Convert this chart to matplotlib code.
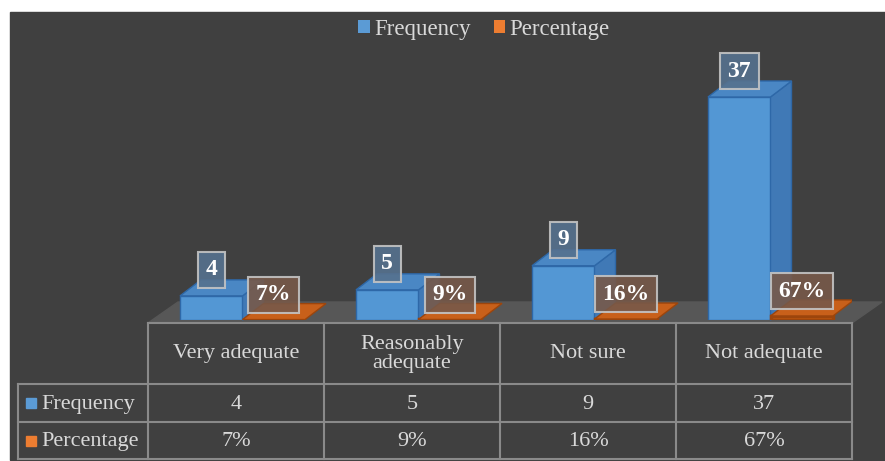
import os
import numpy as np
import matplotlib.pyplot as plt
from matplotlib.patches import Patch, Rectangle
from matplotlib.font_manager import FontProperties, findfont

# data
categories = ['Very adequate', 'Reasonably\nadequate', 'Not sure', 'Not adequate']
frequency = [4, 5, 9, 37]
percentage = [0.07, 0.09, 0.16, 0.67]
pct_labels = ['7%', '9%', '16%', '67%']
series = ['Frequency', 'Percentage']

# Times-like serif, loaded from file
reg_path = findfont(FontProperties(family='Liberation Serif'))
bold_path = reg_path.replace('Regular', 'Bold')
if not os.path.exists(bold_path):
    bold_path = findfont(FontProperties(family='Liberation Serif', weight='bold'))


def fp(size, bold=False):
    return FontProperties(fname=bold_path if bold else reg_path, size=size)


BG = '#404040'
TXT = '#d9d9d9'
GRID = '#8a8a8a'
BLUE, BLUE_SIDE, BLUE_TOP, BLUE_EDGE = '#5397d4', '#4079b6', '#4a87c4', '#2e68a8'
ORG, ORG_TOP, ORG_EDGE = '#c55a11', '#c8601a', '#9c450c'
BLUE_KEY, ORG_KEY = '#5b9bd5', '#ed7d31'

W, H = 885, 461
fig = plt.figure(figsize=(W / 100, H / 100), dpi=100, facecolor='white')

# dark chart area (white margin on left/top as in the picture)
bg = fig.add_axes([0, 0, 1, 1])
bg.set_xlim(0, W)
bg.set_ylim(H, 0)
bg.axis('off')
bg.add_patch(Rectangle((10, 12), W - 10, 448, color=BG, zorder=0))

# main plot area: columns from 148px to 852px, baseline at 320px
px_per_unit = 223 / 37
ax = fig.add_axes([148 / W, 1 - 320 / H, 704 / W, 270 / H])
ax.set_facecolor('none')
ax.set_xlim(0, len(categories))
ax.set_ylim(0, 270 / px_per_unit)
ax.axis('off')

dx = 21 / 176            # bar depth offset in x units
dy = 16 / px_per_unit    # bar depth offset in y units
bw = 62.5 / 176
x = np.arange(len(categories))
xb = x + 32 / 176
xo = xb + bw

# floor
fl = -3 / px_per_unit
fdx, fdy = 30 / 176, 21 / px_per_unit
ax.fill([0, 4, 4 + fdx, fdx], [fl, fl, fl + fdy, fl + fdy], color='#575757',
        clip_on=False, zorder=0)


def box3d(x0, w, h, side, top, edge):
    ax.fill([x0 + w, x0 + w + dx, x0 + w + dx, x0 + w], [0, dy, h + dy, h],
            color=side, ec=edge, lw=1, clip_on=False, zorder=2)
    ax.fill([x0, x0 + w, x0 + w + dx, x0 + dx], [h, h, h + dy, h + dy],
            color=top, ec=edge, lw=1, clip_on=False, zorder=2)


ax.bar(xb, frequency, width=bw, align='edge', color=BLUE, ec=BLUE_EDGE, lw=1, zorder=2)
for i in range(len(categories)):
    box3d(xb[i], bw, frequency[i], BLUE_SIDE, BLUE_TOP, BLUE_EDGE)
ax.bar(xo, percentage, width=bw, align='edge', color=ORG, ec=ORG_EDGE, lw=2.5, zorder=3)
for i in range(len(categories)):
    ax.fill([xo[i], xo[i] + bw, xo[i] + bw + dx, xo[i] + dx],
            [percentage[i], percentage[i], percentage[i] + dy, percentage[i] + dy],
            color=ORG_TOP, ec=ORG_EDGE, lw=1, zorder=3)

# value labels
for i in range(len(categories)):
    ax.text(xb[i] + bw / 2, frequency[i] + 4.3, str(frequency[i]), ha='center', va='center',
            fontproperties=fp(17, True), color='white', zorder=5,
            bbox=dict(boxstyle='square,pad=0.32', fc='#56718e', ec='#c4c4c4', lw=1.5, alpha=0.9))
    ax.text(xo[i] + bw / 2, percentage[i] + 4.1, pct_labels[i], ha='center', va='center',
            fontproperties=fp(17, True), color='white', zorder=5,
            bbox=dict(boxstyle='square,pad=0.32', fc='#775949', ec='#c4c4c4', lw=1.5, alpha=0.9))

# data table (pixel overlay)
tb = fig.add_axes([0, 0, 1, 1])
tb.set_facecolor('none')
tb.set_xlim(0, W)
tb.set_ylim(H, 0)
tb.axis('off')
edges = 148 + 176 * np.arange(len(categories) + 1)
rows = [323, 384, 422, 459]
lx = 18
tb.plot([edges[0], edges[-1]], [rows[0], rows[0]], color=GRID, lw=1.5)
for r in rows[1:]:
    tb.plot([lx, edges[-1]], [r, r], color=GRID, lw=1.5)
for e in edges:
    tb.plot([e, e], [rows[0], rows[-1]], color=GRID, lw=1.5)
tb.plot([lx, lx], [rows[1], rows[-1]], color=GRID, lw=1.5)

for i, c in enumerate(categories):
    cx = (edges[i] + edges[i + 1]) / 2
    tb.text(cx, (rows[0] + rows[1]) / 2, c, ha='center', va='center',
            fontproperties=fp(16), color=TXT, linespacing=1.0)
    tb.text(cx, (rows[1] + rows[2]) / 2 + 1, str(frequency[i]), ha='center', va='center',
            fontproperties=fp(16), color=TXT)
    tb.text(cx, (rows[2] + rows[3]) / 2 + 1, pct_labels[i], ha='center', va='center',
            fontproperties=fp(16), color=TXT)

for j, (name, col) in enumerate(zip(series, [BLUE_KEY, ORG_KEY])):
    cy = (rows[j + 1] + rows[j + 2]) / 2
    tb.add_patch(Rectangle((26, cy - 5), 10, 10, color=col))
    tb.text(41, cy + 1, name, ha='left', va='center', fontproperties=fp(16), color=TXT)

# legend
fig.legend(handles=[Patch(fc=BLUE_KEY), Patch(fc=ORG_KEY)], labels=series,
           loc='center', bbox_to_anchor=(484 / W, 1 - 29 / H), ncol=2, frameon=False,
           prop=fp(16.5), handlelength=0.5, handleheight=0.5,
           handletextpad=0.2, columnspacing=1.0, labelcolor=TXT)

fig.savefig('out.png', dpi=100, facecolor='white')
